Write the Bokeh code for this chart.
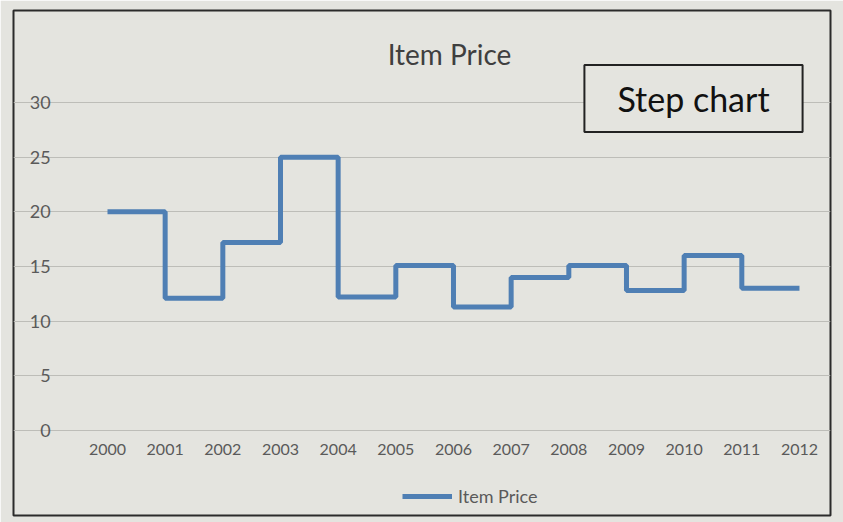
from bokeh.plotting import figure
from bokeh.models import Range1d, FixedTicker, Label, Legend, LegendItem
from bokeh.embed import file_html
from bokeh.resources import INLINE

# Data
years = [2000, 2001, 2002, 2003, 2004, 2005, 2006, 2007, 2008, 2009, 2010, 2011, 2012]
year_labels = ["2000", "2001", "2002", "2003", "2004", "2005", "2006",
               "2007", "2008", "2009", "2010", "2011", "2012"]
item_price = [20.0, 12.1, 17.2, 25.0, 12.2, 15.1, 11.3, 14.0, 15.1, 12.8, 16.0, 13.0, 13.0]
y_ticks = [0, 5, 10, 15, 20, 25, 30]

BG = "#e4e4df"
LINE = "#4f7fb4"
FONT = "Lato"

# The frame is the whole chart box (its outline is the chart border); axes are fixed inside it.
p = figure(width=843, height=522, output_backend="svg", toolbar_location=None,
           x_range=Range1d(1998.37, 2012.538), y_range=Range1d(-7.774, 38.415),
           min_border_left=13, min_border_right=13, min_border_top=10, min_border_bottom=7,
           background_fill_color=BG, border_fill_color=BG)
p.outline_line_color = "#2b2b2b"
p.outline_line_width = 2

r = p.step(years, item_price, mode="after", line_width=5, line_color=LINE)

# axes
p.xaxis.ticker = FixedTicker(ticks=years)
p.xaxis.major_label_overrides = {y: l for y, l in zip(years, year_labels)}
p.xaxis.fixed_location = 0
p.yaxis.ticker = FixedTicker(ticks=y_ticks)
p.yaxis.fixed_location = 1999.5
for ax in (p.xaxis[0], p.yaxis[0]):
    ax.axis_line_color = None
    ax.major_tick_line_color = None
    ax.minor_tick_line_color = None
    ax.major_label_text_font = FONT
    ax.major_label_text_color = "#5a5a5a"
p.xaxis.major_label_text_font_size = "16px"
p.yaxis.major_label_text_font_size = "18px"
p.xaxis.major_label_standoff = 7
p.yaxis.major_label_standoff = 22

p.xgrid.grid_line_color = None
p.ygrid.grid_line_color = "#bdbdb8"
p.ygrid.grid_line_width = 1
p.ygrid.bounds = (1999.5, 2012.5)

# title
p.add_layout(Label(x=436, y=462, x_units="screen", y_units="screen", text="Item Price",
                   text_font=FONT, text_font_size="28px", text_color="#3f3f3f",
                   text_align="center", text_baseline="middle"))

# "Step chart" box
p.add_layout(Label(x=680, y=417, x_units="screen", y_units="screen", text="Step chart",
                   text_font=FONT, text_font_size="34px", text_color="#111111",
                   text_align="center", text_baseline="middle",
                   padding=(33, 13), border_line_color="#222222", border_line_width=2,
                   background_fill_color=BG))

# legend
legend = Legend(items=[LegendItem(label="Item Price", renderers=[r])],
                location=(389, 8), orientation="horizontal",
                background_fill_alpha=0, border_line_color=None,
                label_text_font=FONT, label_text_font_size="18px", label_text_color="#5a5a5a",
                glyph_width=50, glyph_height=20, label_standoff=6, padding=0, margin=0)
p.add_layout(legend, "center")

open("out.html", "w").write(file_html(p, INLINE))
